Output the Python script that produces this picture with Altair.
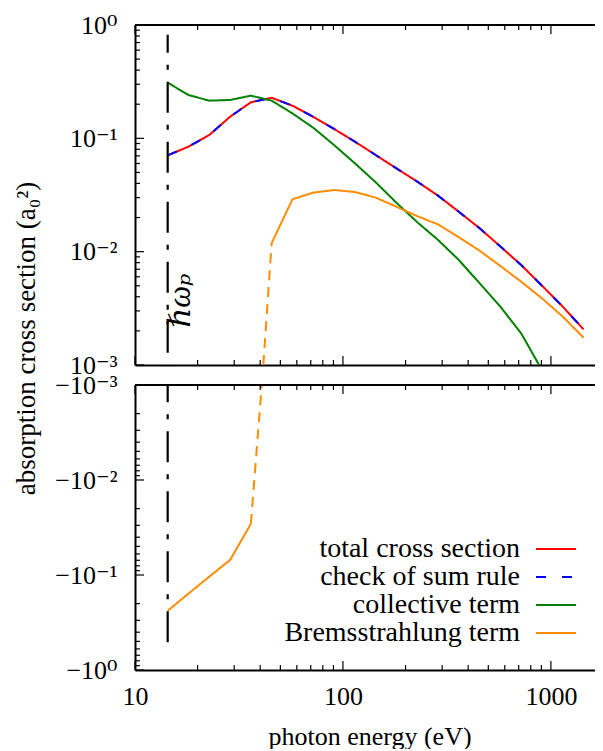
import altair as alt
import pandas as pd

# ---------------- data ----------------
# photon energies (eV) of the computed points
energy = [14.36, 18.08, 22.76, 28.65, 36.07, 45.41, 57.17, 71.97, 90.61, 114.1,
          143.6, 180.8, 227.6, 286.5, 360.7, 454.1, 571.7, 719.7, 906.1, 1141.0, 1436.0]
total = [0.0708, 0.0844, 0.107, 0.155, 0.208, 0.228, 0.194, 0.155, 0.121, 0.0935,
         0.0713, 0.0543, 0.0415, 0.0312, 0.0225, 0.0161, 0.0111, 0.00762, 0.00501, 0.00327, 0.00206]
sum_rule = [0.0708, 0.0844, 0.107, 0.155, 0.208, 0.228, 0.194, 0.155, 0.121, 0.0935,
            0.0713, 0.0543, 0.0415, 0.0312, 0.0225, 0.0161, 0.0111, 0.00762, 0.00501, 0.00327, 0.00206]
collective = [0.310, 0.241, 0.215, 0.218, 0.238, 0.215, 0.166, 0.124, 0.0873, 0.0602,
              0.0410, 0.0270, 0.0182, 0.0127, 0.00844, 0.00526, 0.00327, 0.00190, 0.00090]
brems = [-0.238, -0.157, -0.104, -0.0695, -0.029, 0.0119, 0.029, 0.0332, 0.035, 0.0336,
         0.030, 0.0249, 0.0206, 0.0174, 0.0134, 0.0102, 0.00747, 0.00543, 0.00387, 0.00267, 0.00174]
# energies where the dashed zero-crossing of the Bremsstrahlung term leaves the
# upper panel (at +1e-3) and enters the lower panel (at -1e-3)
brems_cross_energy = [41.4, 40.7]
plasma_energy = 14.36
plasma_span = [0.82, -0.51]
hw_label_pos = [18.4, 0.0037]

series_names = ["total cross section", "check of sum rule", "collective term", "Bremsstrahlung term"]
series_colors = ["#ff0000", "#0000ff", "#008000", "#ff8c00"]
series_dash = [[1, 0], [10, 16], [1, 0], [1, 0]]

x_major = [10, 100, 1000]
x_minor = [20, 30, 40, 50, 60, 70, 80, 90, 200, 300, 400, 500, 600, 700, 800, 900]
y_major_top = [1, 0.1, 0.01, 0.001]
y_minor_top = [0.002, 0.003, 0.004, 0.005, 0.006, 0.007, 0.008, 0.009,
               0.02, 0.03, 0.04, 0.05, 0.06, 0.07, 0.08, 0.09,
               0.2, 0.3, 0.4, 0.5, 0.6, 0.7, 0.8, 0.9]
y_major_bot = [-v for v in y_major_top]
y_minor_bot = [-v for v in y_minor_top]

# ---------------- tables ----------------
rows = []
for name, vals in zip(series_names, [total, sum_rule, collective, brems]):
    for e, v in zip(energy, vals):
        rows.append({"energy": e, "value": v, "series": name})
df = pd.DataFrame(rows)
df_pos = df[df["value"] > 0]
df_neg = df[df["value"] < 0]

first_pos = next(i for i, v in enumerate(brems) if v > 0)
conn_top = pd.DataFrame({"energy": [brems_cross_energy[0], energy[first_pos]],
                         "value": [0.001, brems[first_pos]]})
conn_bot = pd.DataFrame({"energy": [energy[first_pos - 1], brems_cross_energy[1]],
                         "value": [brems[first_pos - 1], -0.001]})
plasma_top = pd.DataFrame({"energy": [plasma_energy], "value": [plasma_span[0]]})
plasma_bot = pd.DataFrame({"energy": [plasma_energy], "value": [plasma_span[1]]})
hw_df = pd.DataFrame({"energy": [hw_label_pos[0]], "value": [hw_label_pos[1]]})

# ---------------- layout constants ----------------
W = 469
H_TOP = 340
H_BOT = 285
FONT = "Liberation Serif, DejaVu Serif, serif"
FS = 26
MAJ = 9
MIN = 5

xscale = alt.Scale(type="log", domain=[10, 1800], nice=False)
yscale_top = alt.Scale(type="log", domain=[0.001, 1], nice=False)
yscale_bot = alt.Scale(type="log", domain=[-1, -0.001], nice=False)
color_scale = alt.Scale(domain=series_names, range=series_colors)
dash_scale = alt.Scale(domain=series_names, range=series_dash)

top_label_expr = ("datum.value > 0.5 ? '10⁰' : datum.value > 0.05 ? '10⁻¹' : "
                  "datum.value > 0.005 ? '10⁻²' : '10⁻³'")
bot_label_expr = ("datum.value < -0.5 ? '−10⁰' : datum.value < -0.05 ? '−10⁻¹' : "
                  "datum.value < -0.005 ? '−10⁻²' : '−10⁻³'")

top_x_axis = alt.Axis(values=x_major, labels=False, ticks=False, domain=True, title=None)
top_y_axis = alt.Axis(values=y_major_top, labelExpr=top_label_expr, ticks=False, domain=True,
                      labelPadding=18,
                      title="absorption cross section (a₀²)", titleX=-101, titleY=313,
                      titleFontSize=27,
                      titleAngle=270, titleAlign="center", titleBaseline="alphabetic")
bot_x_axis = alt.Axis(values=x_major, format="d", ticks=False, domain=True, labelPadding=13,
                      title="photon energy (eV)", titlePadding=14)
bot_y_axis = alt.Axis(values=y_major_bot, labelExpr=bot_label_expr, ticks=False, domain=True,
                      labelPadding=18, title=None)


def curve(data, name, yscale, xaxis, yaxis, legend=None):
    return alt.Chart(data).transform_filter(alt.datum.series == name).mark_line(
        strokeWidth=2, clip=True
    ).encode(
        x=alt.X("energy:Q", scale=xscale, axis=xaxis),
        y=alt.Y("value:Q", scale=yscale, axis=yaxis),
        color=alt.Color("series:N", scale=color_scale, legend=legend),
        strokeDash=alt.StrokeDash("series:N", scale=dash_scale, legend=legend),
    )


def tick_layers(yscale, y_major, y_minor, height, xaxis, yaxis):
    layers = []
    for vals, size in [(x_major, MAJ), (x_minor, MIN)]:
        d = pd.DataFrame({"v": vals})
        layers.append(alt.Chart(d).mark_rule(color="black", strokeWidth=1.2).encode(
            x=alt.X("v:Q", scale=xscale, axis=xaxis), y=alt.value(0), y2=alt.value(size)))
        layers.append(alt.Chart(d).mark_rule(color="black", strokeWidth=1.2).encode(
            x=alt.X("v:Q", scale=xscale, axis=xaxis), y=alt.value(height), y2=alt.value(height - size)))
    for vals, size in [(y_major, MAJ), (y_minor, MIN)]:
        d = pd.DataFrame({"v": vals})
        layers.append(alt.Chart(d).mark_rule(color="black", strokeWidth=1.2).encode(
            y=alt.Y("v:Q", scale=yscale, axis=yaxis), x=alt.value(0), x2=alt.value(size)))
    # upper frame line, drawn at the top of the scale's range
    d = pd.DataFrame({"v": [y_major[0] if yscale is yscale_top else y_major[-1]]})
    layers.append(alt.Chart(d).mark_rule(color="black", strokeWidth=2).encode(
        y=alt.Y("v:Q", scale=yscale, axis=yaxis), x=alt.value(0), x2=alt.value(W)))
    return layers


top_layers = [
    curve(df_pos, series_names[0], yscale_top, top_x_axis, top_y_axis),
    curve(df_pos, series_names[1], yscale_top, top_x_axis, top_y_axis),
    curve(df_pos, series_names[2], yscale_top, top_x_axis, top_y_axis),
    curve(df_pos, series_names[3], yscale_top, top_x_axis, top_y_axis),
    alt.Chart(conn_top).mark_line(color="#ff8c00", strokeWidth=2, strokeDash=[10, 7]).encode(
        x=alt.X("energy:Q", scale=xscale, axis=top_x_axis),
        y=alt.Y("value:Q", scale=yscale_top, axis=top_y_axis)),
    alt.Chart(plasma_top).mark_rule(color="black", strokeWidth=2.2, strokeDash=[31, 12, 5, 12],
                                    strokeDashOffset=13).encode(
        x=alt.X("energy:Q", scale=xscale, axis=top_x_axis),
        y=alt.Y("value:Q", scale=yscale_top, axis=top_y_axis),
        y2=alt.value(H_TOP)),
    alt.Chart(hw_df).mark_text(text="ℏωₚ", angle=270, font=FONT, fontSize=31, fontStyle="italic",
                               align="center", baseline="alphabetic", color="black").encode(
        x=alt.X("energy:Q", scale=xscale, axis=top_x_axis),
        y=alt.Y("value:Q", scale=yscale_top, axis=top_y_axis)),
] + tick_layers(yscale_top, y_major_top, y_minor_top, H_TOP, top_x_axis, top_y_axis)

top = alt.layer(*top_layers).properties(width=W, height=H_TOP)

legend = alt.Legend(orient="none", legendX=407, legendY=150, title=None,
                    symbolType="M-1.82,0L1.82,0", symbolSize=484, symbolStrokeWidth=2,
                    labelFont=FONT, labelFontSize=28,
                    labelColor="black", labelAlign="right", labelOffset={"expr": "-50"},
                    labelLimit=500, rowPadding=0, padding=0)

bot_layers = [
    curve(df_neg, series_names[3], yscale_bot, bot_x_axis, bot_y_axis, legend=legend),
    alt.Chart(conn_bot).mark_line(color="#ff8c00", strokeWidth=2, strokeDash=[10, 7]).encode(
        x=alt.X("energy:Q", scale=xscale, axis=bot_x_axis),
        y=alt.Y("value:Q", scale=yscale_bot, axis=bot_y_axis)),
    alt.Chart(plasma_bot).mark_rule(color="black", strokeWidth=2.2, strokeDash=[31, 12, 5, 12],
                                    strokeDashOffset=0).encode(
        x=alt.X("energy:Q", scale=xscale, axis=bot_x_axis),
        y=alt.Y("value:Q", scale=yscale_bot, axis=bot_y_axis),
        y2=alt.value(0)),
] + tick_layers(yscale_bot, y_major_bot, y_minor_bot, H_BOT, bot_x_axis, bot_y_axis)

bottom = alt.layer(*bot_layers).properties(width=W, height=H_BOT)

chart = alt.vconcat(top, bottom, spacing=20, bounds="flush").resolve_scale(
    color="independent", strokeDash="independent"
).properties(
    padding={"left": 4, "top": 4, "right": -10, "bottom": 0}
).configure_view(stroke=None).configure_axis(
    labelFont=FONT, labelFontSize=FS, titleFont=FONT, titleFontSize=FS,
    labelColor="black", titleColor="black", titleFontWeight="normal",
    domainColor="black", domainWidth=2, grid=False,
    labelFlush=False, labelOverlap=False, labelBound=False,
)

chart.save("out.html", embed_options={"renderer": "svg", "actions": False})
